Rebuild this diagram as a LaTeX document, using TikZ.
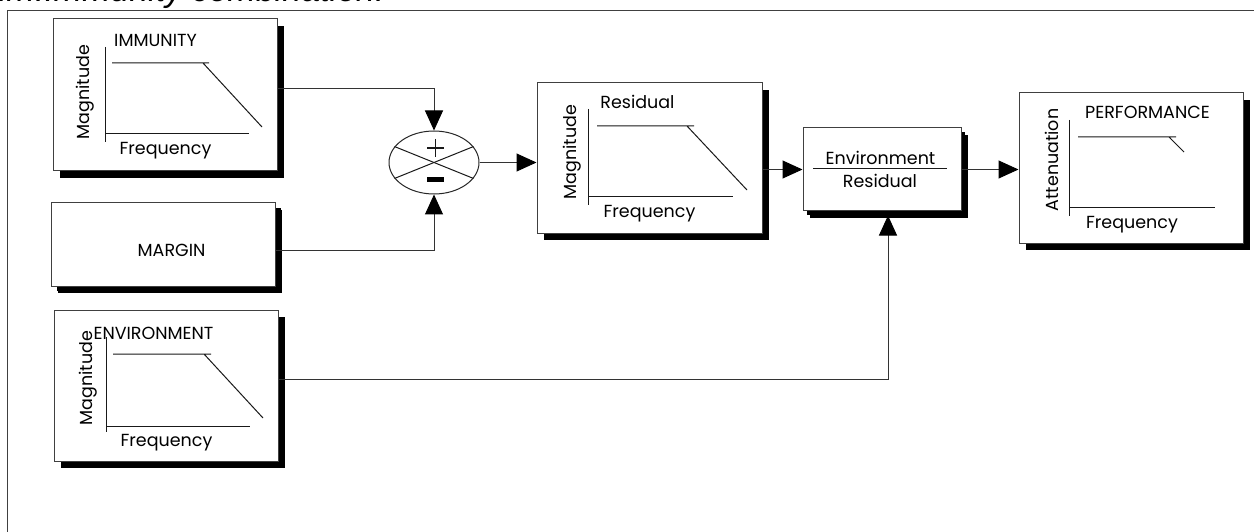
\documentclass[tikz,border=0pt]{standalone}
\usepackage{fontspec}
\setmainfont{Poppins}
\newfontfamily\titlefont{Liberation Sans}
\usetikzlibrary{arrows.meta,shapes.geometric,shadows}

\begin{document}
\begin{tikzpicture}[x=1pt,y=-1pt,
  ink/.style={draw=black!90, line width=1pt},
  conn/.style={draw=black!80, line width=1pt},
  arr/.style={conn, -{Triangle[width=18pt,length=20pt,color=black]}},
  panel/.style={draw=black!75, line width=1pt, fill=white, inner sep=0pt,
    drop shadow={shadow xshift=7pt, shadow yshift=-7pt, opacity=1, fill=black}},
  smallpanel/.style={panel, drop shadow={shadow xshift=4pt, shadow yshift=-4pt, opacity=1, fill=black}},
  lbl/.style={inner sep=0pt, font=\fontsize{17.5}{17.5}\selectfont},
  vlbl/.style={lbl, rotate=90}
]
\clip (0,0) rectangle (1254,532);
% outer frame and caption
\draw[draw=black!75, line width=1pt] (7,11) rectangle (1270,545);
\node[anchor=base west, inner sep=0pt, font=\titlefont\itshape\fontsize{34}{34}\selectfont] (title) at (-1,2) {im.Immunity combination.};

% boxes
\node[panel, minimum width=224pt, minimum height=152pt] (imm) at (165,95) {};
\node[panel, drop shadow={shadow xshift=6pt, shadow yshift=-5pt, opacity=1, fill=black}, minimum width=224pt, minimum height=83pt] (margin) at (163,244.5) {};
\node[panel, minimum width=224pt, minimum height=151pt] (env) at (166,385.5) {};
\node[panel, minimum width=225pt, minimum height=150pt] (res) at (649.5,158) {};
\node[smallpanel, minimum width=158pt, minimum height=83pt] (er) at (882,169.5) {};
\node[panel, minimum width=224pt, minimum height=150pt] (perf) at (1131,168) {};
\node[draw=black!85, line width=1pt, ellipse, fill=white, minimum width=90pt, minimum height=63pt, inner sep=0pt] (sum) at (434,162.5) {};

% summing junction marks
\draw[ink] (sum.158) -- (sum.-22);
\draw[ink] (sum.202) -- (sum.22);
\draw[ink, line width=1.3pt] (427,148) -- (444,148) (435.5,139) -- (435.5,157);
\node[fill=black, inner sep=0pt, minimum width=17pt, minimum height=5pt] (minus) at (435.5,179.5) {};

% IMMUNITY plot
\node[lbl] (immT) at (155.5,40) {IMMUNITY};
\node[vlbl] (immM) at (85,92) {Magnitude};
\node[lbl] (immF) at (165.5,151) {Frequency};
\draw[ink] (105,47) -- (105,142) (105,134) -- (249,134);
\draw[ink] (112,63) -- (209,63) (203,63) -- (262,127);

% MARGIN
\node[lbl] (marginT) at (171.5,250) {MARGIN};

% ENVIRONMENT plot
\node[lbl] (envT) at (153.5,333) {ENVIRONMENT};
\node[vlbl] (envM) at (88,378) {Magnitude};
\node[lbl] (envF) at (166.5,443) {Frequency};
\draw[ink] (106,337) -- (106,432) (106,426) -- (250,426);
\draw[ink] (113,354) -- (211,354) (204,354) -- (263,418);

% Residual plot
\node[lbl] (resT) at (637.5,102) {Residual};
\node[vlbl] (resM) at (572,152) {Magnitude};
\node[lbl] (resF) at (649.5,214) {Frequency};
\draw[ink] (588,109) -- (588,205) (588,197) -- (733,197);
\draw[ink] (597,126) -- (694,126) (687,126) -- (747,190);

% Environment / Residual ratio
\node[lbl] (erN) at (880.5,158) {Environment};
\node[lbl] (erD) at (880,181) {Residual};
\draw[ink] (813,169) -- (947,169);

% PERFORMANCE plot
\node[lbl] (perfT) at (1147.5,112) {PERFORMANCE};
\node[vlbl] (perfA) at (1052,160) {Attenuation};
\node[lbl] (perfF) at (1132,225) {Frequency};
\draw[ink] (1069,120) -- (1069,216) (1069,208) -- (1215,208);
\draw[ink] (1078,137) -- (1176,137) (1169,137) -- (1184,152);

% connectors
\draw[arr] ([yshift=6pt]imm.east) -| (sum.north);
\draw[arr] ([yshift=-5.5pt]margin.east) -| (sum.south);
\draw[arr] (sum.east) -- (sum.east -| res.west);
\draw[arr] (er.west -| res.east) -- (er.west);
\draw[arr] (er.east) -- (er.east -| perf.west);
\draw[arr, shorten >=4pt] ([yshift=6.5pt]env.east) -| ([xshift=6pt]er.south);
\end{tikzpicture}
\end{document}
